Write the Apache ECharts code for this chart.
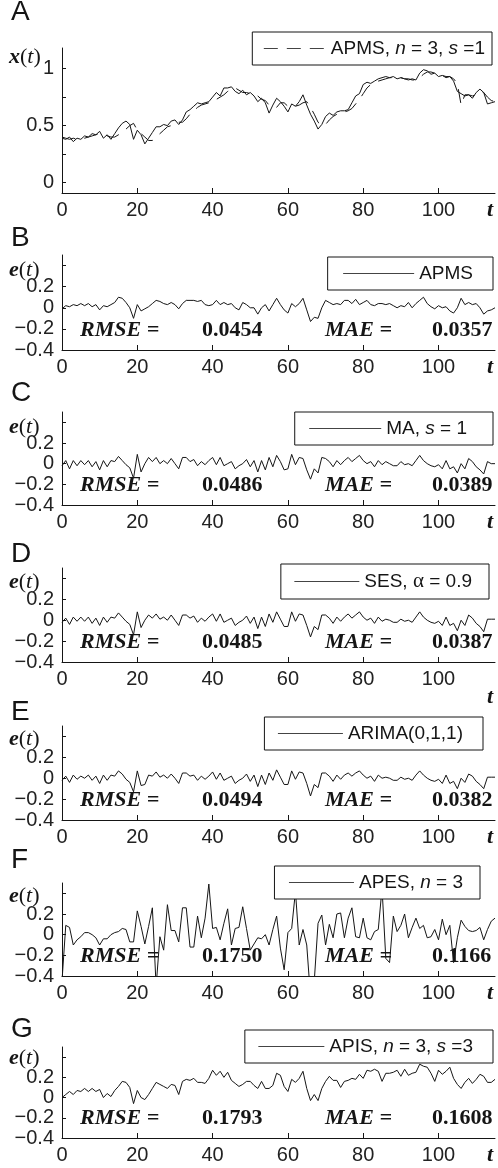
<!DOCTYPE html>
<html lang="en">
<head>
<meta charset="UTF-8">
<title>APMS forecast and errors</title>
<style>html,body{margin:0;padding:0;background:#fff}</style>
</head>
<script src="https://cdn.jsdelivr.net/npm/echarts@6/dist/echarts.min.js"></script>
<body>
<div id="main" style="width:498px;height:1168px"></div>
<script type="text/javascript">
// panel A: observed series and the APMS forecast
var xActual = [
  0.39,0.38,0.40,0.36,0.39,0.38,0.41,0.40,0.43,0.42,
  0.45,0.39,0.42,0.38,0.43,0.48,0.52,0.54,0.51,0.38,
  0.46,0.42,0.34,0.39,0.44,0.49,0.49,0.51,0.50,0.54,
  0.55,0.51,0.55,0.62,0.64,0.67,0.70,0.69,0.70,0.71,
  0.75,0.79,0.76,0.83,0.83,0.84,0.80,0.78,0.81,0.77,
  0.79,0.76,0.71,0.74,0.70,0.61,0.68,0.74,0.71,0.67,
  0.62,0.69,0.67,0.71,0.77,0.68,0.60,0.54,0.47,0.51,
  0.58,0.61,0.59,0.62,0.63,0.63,0.64,0.70,0.76,0.78,
  0.86,0.88,0.87,0.89,0.91,0.92,0.93,0.92,0.93,0.91,
  0.92,0.91,0.90,0.91,0.90,0.96,0.99,0.98,0.95,0.96,
  0.93,0.94,0.92,0.93,0.89,0.80,0.78,0.76,0.77,0.74,
  0.79,0.82,0.79,0.69,0.70,0.71
];
var xApms = [
  0.40,0.39,0.38,0.39,0.38,0.38,0.39,0.40,0.41,0.42,
  0.43,0.43,0.41,0.40,0.40,0.42,0.44,0.47,0.50,0.52,
  0.46,0.43,0.40,0.37,0.37,0.40,0.43,0.46,0.49,0.50,
  0.52,0.53,0.53,0.56,0.60,0.63,0.66,0.68,0.69,0.70,
  0.71,0.73,0.75,0.77,0.80,0.82,0.83,0.81,0.79,0.79,
  0.78,0.77,0.76,0.73,0.72,0.68,0.66,0.66,0.70,0.70,
  0.67,0.66,0.67,0.68,0.70,0.71,0.66,0.60,0.53,0.50,
  0.51,0.55,0.58,0.60,0.61,0.62,0.63,0.65,0.69,0.73,
  0.78,0.83,0.86,0.87,0.89,0.90,0.91,0.92,0.92,0.92,
  0.92,0.91,0.91,0.90,0.90,0.92,0.95,0.97,0.97,0.96,
  0.95,0.94,0.93,0.93,0.91,0.87,0.68,0.77,0.77,0.76,
  0.77,0.79,0.79,0.75,0.72,0.71
];
// panels B-G: forecast errors e(t)
var eApms = [
  -0.01,0.02,0.01,0.03,0.02,0.04,0.02,0.04,0.01,0.03,
  -0.02,0.02,0.01,0.03,0.05,0.10,0.09,0.05,0.00,-0.10,
  0.03,-0.03,-0.01,0.01,0.04,0.07,0.06,0.04,0.03,0.05,
  0.03,-0.01,0.04,0.07,0.07,0.07,0.06,0.07,0.03,0.02,
  0.03,0.07,0.03,0.05,0.03,0.04,0.00,-0.02,0.05,0.03,
  0.00,0.00,-0.06,0.00,0.03,-0.03,0.03,0.09,0.03,-0.02,
  -0.05,0.04,0.01,0.04,0.09,-0.02,-0.13,-0.09,-0.10,0.00,
  0.07,0.05,0.03,0.04,0.03,0.07,0.07,0.04,0.08,0.03,
  0.05,0.07,0.03,0.02,0.04,0.04,0.03,0.04,0.02,0.00,
  0.02,0.01,0.05,0.00,0.04,0.07,0.10,0.04,0.01,-0.01,
  0.02,0.00,0.01,-0.03,-0.05,0.00,0.09,0.03,0.05,0.03,
  0.04,0.00,-0.06,-0.03,-0.02,0.00
];
var eMa = [
  -0.02,0.03,-0.05,0.03,-0.02,0.03,-0.01,0.03,-0.03,0.02,
  -0.06,0.03,-0.03,0.03,0.02,0.07,0.03,-0.01,-0.04,-0.14,
  0.09,-0.08,0.00,0.06,0.02,0.06,0.00,0.03,0.00,0.05,
  0.00,-0.05,0.06,0.06,0.02,0.04,-0.02,0.02,-0.01,0.03,
  0.06,-0.01,0.06,-0.02,0.00,0.02,-0.05,-0.02,0.00,0.04,
  -0.03,0.03,-0.08,0.03,-0.06,0.06,-0.03,0.08,0.02,-0.06,
  -0.05,0.09,-0.01,0.06,0.05,-0.06,-0.15,-0.05,-0.09,0.06,
  0.05,0.02,-0.03,0.03,-0.01,0.03,0.06,0.02,0.05,0.08,
  0.03,0.00,0.02,-0.03,0.03,-0.01,0.02,0.00,-0.02,-0.02,
  0.02,-0.01,0.00,-0.02,0.03,0.08,0.03,0.00,-0.02,-0.03,
  -0.01,-0.05,0.03,-0.05,-0.03,-0.09,0.00,-0.05,0.05,0.02,
  -0.03,-0.06,-0.10,0.02,0.00,0.00
];
var eSes = [
  -0.02,0.02,-0.04,0.03,-0.01,0.03,-0.01,0.03,-0.03,0.02,
  -0.05,0.03,-0.02,0.03,0.02,0.07,0.03,-0.01,-0.04,-0.14,
  0.08,-0.07,0.00,0.05,0.02,0.06,0.01,0.03,0.00,0.05,
  0.00,-0.05,0.05,0.05,0.02,0.04,-0.02,0.02,-0.01,0.03,
  0.06,-0.01,0.06,-0.02,0.00,0.02,-0.05,-0.02,0.00,0.04,
  -0.03,0.03,-0.08,0.03,-0.06,0.06,-0.02,0.08,0.01,-0.06,
  -0.06,0.08,-0.01,0.06,0.05,-0.05,-0.16,-0.06,-0.09,0.05,
  0.05,0.02,-0.03,0.03,-0.01,0.03,0.06,0.02,0.05,0.08,
  0.03,0.00,0.02,-0.03,0.03,-0.01,0.01,0.00,-0.02,-0.02,
  0.01,-0.01,0.00,-0.02,0.03,0.08,0.03,0.00,-0.02,-0.03,
  -0.01,-0.05,0.03,-0.05,-0.03,-0.10,0.00,-0.05,0.05,0.02,
  -0.03,-0.06,-0.11,0.01,0.01,0.01
];
var eArima = [
  -0.02,0.02,-0.04,0.03,-0.01,0.02,0.00,0.03,-0.02,0.02,
  -0.05,0.03,-0.02,0.03,0.02,0.07,0.04,-0.01,-0.04,-0.13,
  0.07,-0.07,-0.06,0.03,0.02,0.06,0.01,0.03,0.00,0.04,
  0.00,-0.05,0.05,0.05,0.02,0.03,-0.02,0.02,-0.01,0.02,
  0.06,-0.01,0.05,-0.02,0.00,0.02,-0.05,-0.02,0.00,0.04,
  -0.03,0.03,-0.08,0.03,-0.06,0.05,-0.02,0.08,0.01,-0.06,
  -0.06,0.07,-0.01,0.06,0.05,-0.05,-0.17,-0.06,-0.09,0.05,
  0.05,0.02,-0.03,0.03,-0.01,0.03,0.05,0.02,0.05,0.07,
  0.03,0.00,0.02,-0.03,0.03,0.00,0.01,0.00,-0.02,-0.02,
  0.01,-0.01,0.00,-0.02,0.03,0.07,0.03,0.00,-0.02,-0.03,
  -0.01,-0.05,0.03,-0.05,-0.03,-0.10,0.00,-0.04,0.04,0.02,
  -0.03,-0.06,-0.10,0.01,0.01,0.01
];
var eApes = [
  -0.45,0.09,0.07,-0.10,-0.05,-0.02,0.02,0.02,0.00,-0.03,
  -0.10,-0.04,-0.04,0.00,0.02,0.03,0.06,0.05,-0.07,-0.07,
  0.23,0.08,-0.09,0.08,0.26,-0.50,-0.02,-0.15,0.29,0.04,
  0.04,-0.07,0.26,0.26,-0.12,-0.12,0.18,-0.03,0.16,0.49,
  0.06,0.07,-0.05,0.11,0.25,-0.10,0.06,0.07,0.27,0.06,
  -0.15,-0.09,-0.03,-0.04,0.00,-0.10,0.05,0.18,-0.13,-0.34,
  0.02,0.06,0.42,-0.10,0.05,-0.10,-0.60,-0.45,0.11,0.19,
  -0.10,0.10,-0.03,0.20,0.21,-0.03,0.16,0.26,-0.02,-0.03,
  0.16,-0.03,-0.05,0.03,0.05,0.45,-0.23,-0.27,0.18,0.03,
  0.09,0.20,-0.03,0.07,0.16,0.06,0.09,-0.03,-0.02,0.05,
  -0.05,0.15,0.00,0.09,-0.27,-0.03,0.14,0.08,0.04,0.03,
  0.04,0.07,-0.05,0.05,0.13,0.16
];
var eApis = [
  0.00,0.03,0.06,0.03,0.07,0.06,0.09,0.06,0.09,0.06,
  0.08,0.00,0.04,0.01,0.07,0.11,0.16,0.15,0.10,-0.06,
  0.07,0.00,-0.02,0.03,0.09,0.15,0.13,0.11,0.09,0.13,
  0.12,0.03,0.16,0.18,0.17,0.19,0.15,0.15,0.14,0.19,
  0.27,0.22,0.26,0.20,0.25,0.17,0.14,0.11,0.13,0.16,
  0.16,0.12,0.09,0.16,0.09,0.09,0.12,0.24,0.22,0.11,
  0.06,0.18,0.15,0.19,0.26,0.09,-0.03,0.03,-0.03,0.09,
  0.16,0.21,0.17,0.17,0.10,0.16,0.17,0.19,0.18,0.23,
  0.19,0.27,0.26,0.28,0.26,0.16,0.24,0.24,0.25,0.27,
  0.21,0.28,0.22,0.24,0.25,0.33,0.31,0.30,0.24,0.16,
  0.27,0.23,0.26,0.30,0.19,0.13,0.09,0.15,0.19,0.14,
  0.18,0.23,0.21,0.15,0.15,0.18
];

var panelLetters = ['A', 'B', 'C', 'D', 'E', 'F', 'G'];
var legendNames = ['APMS, n = 3, s =1', 'APMS', 'MA, s = 1', 'SES, \u03b1 = 0.9', 'ARIMA(0,1,1)', 'APES, n = 3', 'APIS, n = 3, s =3'];
var legendRich = [
  '{r|APMS, }{it|n}{r| = 3, }{it|s}{r| =1}',
  '{r|APMS}',
  '{r|MA, }{it|s}{r| = 1}',
  '{r|SES, }{g|\u03b1}{r| = 0.9}',
  '{r|ARIMA(0,1,1)}',
  '{r|APES, }{it|n}{r| = 3}',
  '{r|APIS, }{it|n}{r| = 3, }{it|s}{r| =3}'
];
var rmse = ['0.0454', '0.0486', '0.0485', '0.0494', '0.1750', '0.1793'];
var mae = ['0.0357', '0.0389', '0.0387', '0.0382', '0.1166', '0.1608'];
var errSeries = [eApms, eMa, eSes, eArima, eApes, eApis];

var xTicks = [0, 20, 40, 60, 80, 100];
var aTicks = [0, 0.25, 0.5, 0.75, 1];
var aLabels = [0, 0.5, 1];
var eTicks = [-0.4, -0.2, 0, 0.2, 0.4];
var eLabels = [-0.4, -0.2, 0, 0.2];

// layout (pixels)
var gridTop = [48, 255, 412, 568, 726, 883, 1047];
var gridBottom = [193, 350, 505, 662, 820, 976, 1138];
var letterY = [12, 238, 393, 554, 712, 860, 1029];
var nameY = [57, 270, 427, 582, 739, 896, 1058];
var legTop = [32, 257, 412, 564, 717, 866, 1030];
var legRight = [492, 493, 493, 489, 483, 480, 493];
var legPad = [[11, 7], [15, 20], [14, 26], [13, 17], [13, 20], [14, 17], [13, 20]];
var legLine = [62, 71, 72, 65, 65, 65, 66];

var SANS = 'Liberation Sans, Arial, sans-serif';
var SERIF = 'Liberation Serif, Times New Roman, serif';
var INK = '#151515';

function pairs(vals) {
  return vals.map(function (v, t) { return [t, v]; });
}
function minus(v) {
  return v < 0 ? '\u2212' + String(-v) : String(v);
}

var textRich = {
  bi: {fontFamily: SERIF, fontWeight: 'bold', fontStyle: 'italic', fontSize: 22, color: INK, lineHeight: 22},
  b: {fontFamily: SERIF, fontWeight: 'bold', fontStyle: 'normal', fontSize: 22, color: INK, lineHeight: 22},
  p: {fontFamily: SERIF, fontWeight: 'normal', fontStyle: 'normal', fontSize: 22, color: INK, lineHeight: 22},
  i: {fontFamily: SERIF, fontWeight: 'normal', fontStyle: 'italic', fontSize: 22, color: INK, lineHeight: 22},
  L: {fontFamily: SANS, fontWeight: 'normal', fontStyle: 'normal', fontSize: 28, color: INK, lineHeight: 28}
};
function txt(x, yc, str, h) {
  return {
    left: x, top: yc - h / 2, padding: 0, text: str,
    textStyle: {fontWeight: 'normal', rich: textRich, lineHeight: h}
  };
}

var grids = [], xAxes = [], yAxes = [], series = [], legends = [], titles = [];

for (var i = 0; i < 7; i++) {
  grids.push({left: 62, right: 3, top: gridTop[i], height: gridBottom[i] - gridTop[i]});
  xAxes.push({
    gridIndex: i, type: 'value', min: 0, max: 115,
    axisLine: {show: true, onZero: false, lineStyle: {color: INK, width: 1}},
    axisTick: {show: true, inside: true, length: 5, customValues: xTicks, lineStyle: {color: INK}},
    axisLabel: {customValues: xTicks, fontFamily: SANS, fontSize: 20, color: '#222', margin: 7},
    splitLine: {show: false}
  });
  var isA = i === 0;
  yAxes.push({
    gridIndex: i, type: 'value',
    min: isA ? -0.09 : -0.4, max: isA ? 1.18 : 0.5,
    axisLine: {show: true, onZero: false, lineStyle: {color: INK, width: 1}},
    axisTick: {show: true, inside: true, length: 4, customValues: isA ? aTicks : eTicks, lineStyle: {color: INK}},
    axisLabel: {customValues: isA ? aLabels : eLabels, formatter: minus, fontFamily: SANS, fontSize: 20, color: '#222', margin: 8},
    splitLine: {show: false}
  });
  legends.push({
    data: [legendNames[i]],
    right: 498 - legRight[i], top: legTop[i],
    padding: [7, legPad[i][1], 7, legPad[i][0]],
    itemWidth: legLine[i], itemHeight: 14,
    itemStyle: {opacity: 0},
    lineStyle: {width: 1, color: '#444'},
    borderColor: INK, borderWidth: 1, borderRadius: 0, backgroundColor: '#fff',
    selectedMode: false,
    formatter: (function (k) { return function () { return legendRich[k]; }; })(i),
    textStyle: {
      lineHeight: 19,
      rich: {
        r: {fontFamily: SANS, fontSize: 19, color: INK, lineHeight: 19},
        it: {fontFamily: SANS, fontStyle: 'italic', fontSize: 19, color: INK, lineHeight: 19},
        g: {fontFamily: SERIF, fontSize: 21, color: INK, lineHeight: 19}
      }
    }
  });
  titles.push(txt(11, letterY[i], '{L|' + panelLetters[i] + '}', 28));
  titles.push(txt(9, nameY[i], (isA ? '{bi|x}' : '{bi|e}') + '{p|(}{i|t}{p|)}', 22));
  titles.push(txt(487, i === 3 ? 697 : gridBottom[i] + 17, '{bi|t}', 22));
}

// panel A lines
series.push({
  name: 'x(t)', type: 'line', xAxisIndex: 0, yAxisIndex: 0, data: pairs(xActual),
  symbol: 'none', itemStyle: {color: INK}, lineStyle: {color: INK, width: 1}, silent: true
});
series.push({
  name: legendNames[0], type: 'line', xAxisIndex: 0, yAxisIndex: 0, data: pairs(xApms),
  symbol: 'none', itemStyle: {color: INK}, lineStyle: {color: INK, width: 1, type: [14, 9]}, silent: true
});
// error panels
for (var k = 0; k < errSeries.length; k++) {
  series.push({
    name: legendNames[k + 1], type: 'line', xAxisIndex: k + 1, yAxisIndex: k + 1,
    data: pairs(errSeries[k]), symbol: 'none', itemStyle: {color: INK},
    lineStyle: {color: INK, width: 1}, silent: true
  });
  var yc = gridBottom[k + 1] - 20;
  titles.push(txt(80, yc, '{bi|RMSE =}', 22));
  titles.push(txt(202, yc, '{b|' + rmse[k] + '}', 22));
  titles.push(txt(325, yc, '{bi|MAE =}', 22));
  titles.push(txt(432, yc, '{b|' + mae[k] + '}', 22));
}

var myChart = echarts.init(document.getElementById('main'));
myChart.setOption({
  animation: false,
  backgroundColor: '#fff',
  title: titles,
  legend: legends,
  grid: grids,
  xAxis: xAxes,
  yAxis: yAxes,
  series: series
});
</script>
</body>
</html>
